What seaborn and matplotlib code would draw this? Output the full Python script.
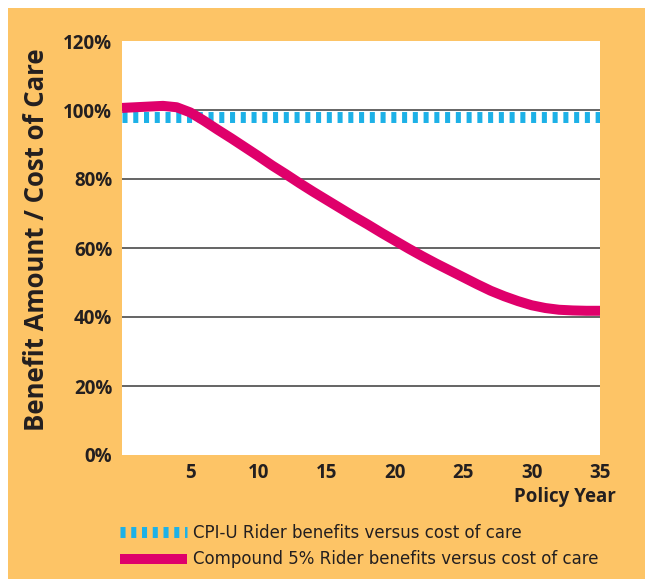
import matplotlib
matplotlib.use("Agg")
import matplotlib.pyplot as plt
from matplotlib.patches import Rectangle
import seaborn as sns

# data
years = list(range(0, 36))
compound_5 = [100.6, 100.8, 101.0, 101.2, 100.8, 99.3, 96.9, 94.3, 91.8, 89.2,
              86.6, 83.9, 81.4, 78.8, 76.3, 73.9, 71.5, 69.1, 66.8, 64.4,
              62.1, 59.8, 57.6, 55.5, 53.5, 51.5, 49.5, 47.6, 46.0, 44.6,
              43.4, 42.6, 42.1, 41.9, 41.8, 41.8]
cpi_u = [98.0] * len(years)

y_ticks = [0, 20, 40, 60, 80, 100, 120]
y_tick_labels = ["0%", "20%", "40%", "60%", "80%", "100%", "120%"]
x_ticks = [5, 10, 15, 20, 25, 30, 35]
grid_levels = [20, 40, 60, 80, 100]

labels = ["CPI-U Rider benefits versus cost of care",
          "Compound 5% Rider benefits versus cost of care"]

ORANGE = "#fdc466"
BLUE = "#1db1e7"
MAGENTA = "#df006b"
TEXT = "#231f20"

sns.set_style("white")
plt.rcParams['font.family'] = ['Open Sans', 'DejaVu Sans']

fig = plt.figure(figsize=(6.45, 5.79), dpi=100)
fig.patch.set_facecolor("white")
fig.patches.append(Rectangle((8 / 645, 0), 1, 1 - 8 / 579, transform=fig.transFigure,
                             facecolor=ORANGE, edgecolor="none", zorder=-10))

ax = fig.add_axes([122 / 645, 1 - 455 / 579, 478 / 645, 414 / 579])
ax.set_facecolor("white")

for g in grid_levels:
    ax.axhline(g, color="#4a4a4a", lw=1.2, zorder=1)

sns.lineplot(x=years, y=cpi_u, ax=ax, color=BLUE, lw=7.9, zorder=2)
sns.lineplot(x=years, y=compound_5, ax=ax, color=MAGENTA, lw=7.2, zorder=3)
cpi_line, comp_line = ax.lines[-2], ax.lines[-1]
cpi_line.set_dashes((0.46, 0.52))
cpi_line.set_dash_capstyle("butt")
comp_line.set_solid_capstyle("butt")
comp_line.set_solid_joinstyle("round")

ax.set_xlim(0, 35)
ax.set_ylim(0, 120)
ax.set_yticks(y_ticks)
ax.set_yticklabels(y_tick_labels)
ax.set_xticks(x_ticks)
ax.set_xticklabels([str(t) for t in x_ticks])
ax.tick_params(length=0, labelsize=13.5, labelcolor=TEXT)
ax.tick_params(axis="y", pad=7)
ax.tick_params(axis="x", pad=6)
for lab in ax.get_xticklabels() + ax.get_yticklabels():
    lab.set_fontweight("bold")
for s in ax.spines.values():
    s.set_visible(False)

ax.set_ylabel("Benefit Amount / Cost of Care", fontsize=18.5, fontweight="bold",
              color=TEXT)
ax.yaxis.set_label_coords((50 - 122) / 478, (455 - 240) / 414)
ax.set_xlabel("")
fig.text(616 / 645, 1 - 497 / 579, "Policy Year", ha="right", va="center",
         fontsize=13.5, fontweight="bold", color=TEXT)

fig.legend([cpi_line, comp_line], labels, loc="upper left",
           bbox_to_anchor=(120 / 645, 1 - 524 / 579), frameon=False,
           prop={"family": ["DejaVu Sans"], "size": 12},
           handlelength=4.0, handletextpad=0.4, labelspacing=0.5,
           labelcolor=TEXT, borderaxespad=0, borderpad=0)

fig.savefig("out.png", dpi=100)
